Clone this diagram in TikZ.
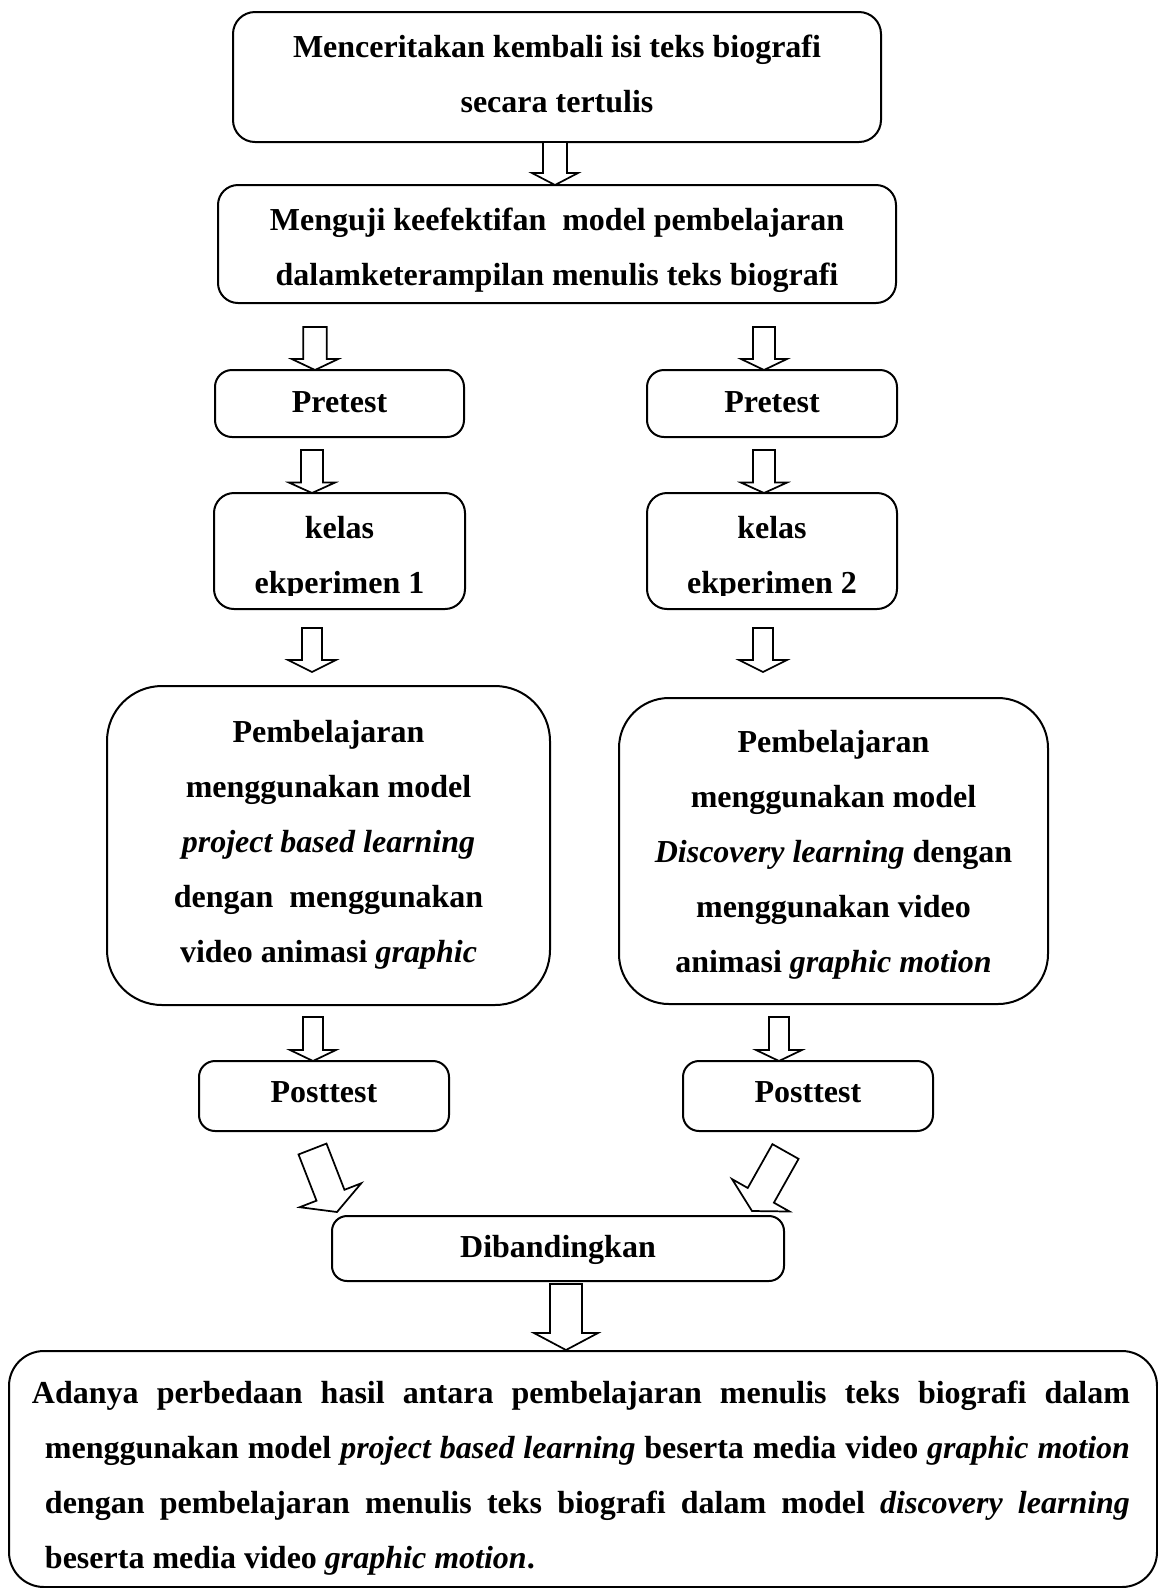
\documentclass[tikz,border=0pt]{standalone}
\usepackage{fontspec}
\setmainfont{Liberation Serif}
\usetikzlibrary{calc}
\newcommand\nsp{\spaceskip=0pt\xspaceskip=0pt\relax}
\newcommand\csp{\spaceskip=\fontdimen2\font\xspaceskip=\fontdimen2\font\relax}
\tikzset{
  bx/.style={draw, line width=0.75pt, inner sep=0pt, outer sep=0pt},
  txt/.style={inner sep=0pt, outer sep=0pt, align=center, anchor=base,
              font=\fontsize{12pt}{20.625pt}\selectfont\bfseries},
  blk/.style={draw, line width=0.65pt, fill=white, line join=miter},
}
% #1 name, #2 start coord, #3 tip coord, #4 half shaft, #5 half head, #6 head length
\newcommand\blkarrow[6]{%
  \coordinate (#1h) at ($(#3)!#6!(#2)$);
  \draw[blk] ($(#2)!#4!90:(#3)$) -- ($(#1h)!#4!90:(#3)$) -- ($(#1h)!#5!90:(#3)$)
    -- (#3) -- ($(#1h)!#5!-90:(#3)$) -- ($(#1h)!#4!-90:(#3)$) -- ($(#2)!#4!-90:(#3)$) -- cycle;
}
\begin{document}
\begin{tikzpicture}[x=0.375pt, y=-0.375pt]
\useasboundingbox (0,0) rectangle (1158,1588);

% boxes
\node[bx, minimum width=243pt, minimum height=48.75pt, rounded corners=8.25pt] (b1) at (557,77) {};
\node[bx, minimum width=254.25pt, minimum height=44.25pt, rounded corners=7.5pt] (b2) at (557,244) {};
\node[bx, minimum width=93.375pt, minimum height=25.125pt, rounded corners=6.375pt] (pre1) at (339.5,403.5) {};
\node[bx, minimum width=93.75pt, minimum height=25.125pt, rounded corners=6.375pt] (pre2) at (772,403.5) {};
\node[bx, minimum width=94.125pt, minimum height=43.5pt, rounded corners=7.5pt] (kel1) at (339.5,551) {};
\node[bx, minimum width=93.75pt, minimum height=43.5pt, rounded corners=7.5pt] (kel2) at (772,551) {};
\node[bx, minimum width=166.125pt, minimum height=119.625pt, rounded corners=20.625pt] (big1) at (328.5,845.5) {};
\node[bx, minimum width=160.875pt, minimum height=114.75pt, rounded corners=18.75pt] (big2) at (833.5,851) {};
\node[bx, minimum width=93.75pt, minimum height=26.25pt, rounded corners=6pt] (post1) at (324,1096) {};
\node[bx, minimum width=93.75pt, minimum height=26.25pt, rounded corners=6pt] (post2) at (808,1096) {};
\node[bx, minimum width=169.5pt, minimum height=24.375pt, rounded corners=5.625pt] (dib) at (558,1248.5) {};
\node[bx, minimum width=430.5pt, minimum height=88.5pt, rounded corners=13.125pt] (fin) at (583,1469) {};

% texts
\node[txt, text width=232.5pt] (t1) at (557,57) {\csp Menceritakan kembali isi teks biografi\\secara tertulis};
\node[txt, text width=243.75pt] (t2) at (557,230) {\csp Menguji keefektifan~ model pembelajaran\\dalamketerampilan menulis teks biografi};
\node[txt, text width=86.25pt] (tp1) at (339.5,412) {Pretest};
\node[txt, text width=86.25pt] (tp2) at (772,412) {Pretest};
\begin{scope}
  \clip (200,480) rectangle (480,595);
  \node[txt, text width=86.25pt] (tk1) at (339.5,538) {\csp kelas\\ekperimen 1};
\end{scope}
\begin{scope}
  \clip (630,480) rectangle (910,595);
  \node[txt, text width=86.25pt] (tk2) at (772,538) {\csp kelas\\ekperimen 2};
\end{scope}
\node[txt, text width=157.5pt] (tb1) at (328.5,742) {\csp Pembelajaran\\menggunakan model\\\textit{project based learning}\\dengan~ menggunakan\\video animasi \textit{graphic}};
\node[txt, text width=155pt] (tb2) at (833.5,752) {\csp Pembelajaran\\menggunakan model\\\textit{Discovery learning} dengan\\menggunakan video\\animasi \textit{graphic motion}};
\node[txt, text width=86.25pt] (tq1) at (324,1102) {Posttest};
\node[txt, text width=86.25pt] (tq2) at (808,1102) {Posttest};
\node[txt, text width=161.25pt] (td) at (558,1257) {Dibandingkan};
\node[txt, align=left, anchor=base west, text width=406.875pt] (tf) at (45,1403)
  {\nsp\kern-4.875pt\makebox[411.75pt][s]{Adanya perbedaan hasil antara pembelajaran menulis teks biografi dalam}\\
   \makebox[406.875pt][s]{menggunakan model \textit{project based learning} beserta media video \textit{graphic motion}}\\
   \makebox[406.875pt][s]{dengan pembelajaran menulis teks biografi dalam model \textit{discovery learning}}\\
   \csp beserta media video \textit{graphic motion}.};

% arrow end points
\coordinate (a1s) at (555,142);  \coordinate (a1e) at (555,185);
\coordinate (a2s) at (315,327);  \coordinate (a2e) at (315,370);
\coordinate (a3s) at (764,327);  \coordinate (a3e) at (764,370);
\coordinate (a4s) at (312,450);  \coordinate (a4e) at (312,493);
\coordinate (a5s) at (764,450);  \coordinate (a5e) at (764,493);
\coordinate (a6s) at (312,628);  \coordinate (a6e) at (312,672);
\coordinate (a7s) at (763,628);  \coordinate (a7e) at (763,672);
\coordinate (a8s) at (313,1017); \coordinate (a8e) at (313,1061);
\coordinate (a9s) at (779,1017); \coordinate (a9e) at (779,1061);
\coordinate (d1s) at (312.5,1149); \coordinate (d1e) at (337,1212);
\coordinate (d2s) at (785.5,1151.5); \coordinate (d2e) at (752,1211);
\coordinate (a10s) at (566,1284); \coordinate (a10e) at (566,1350);

\blkarrow{a1}{a1s}{a1e}{4.5pt}{8.625pt}{4.5pt}
\blkarrow{a2}{a2s}{a2e}{4.4pt}{8.7pt}{4.125pt}
\blkarrow{a3}{a3s}{a3e}{4.1pt}{8.6pt}{4.125pt}
\blkarrow{a4}{a4s}{a4e}{4.1pt}{8.6pt}{3.9pt}
\blkarrow{a5}{a5s}{a5e}{4.1pt}{8.6pt}{3.9pt}
\blkarrow{a6}{a6s}{a6e}{3.75pt}{9pt}{4.5pt}
\blkarrow{a7}{a7s}{a7e}{3.75pt}{9pt}{4.5pt}
\blkarrow{a8}{a8s}{a8e}{3.75pt}{8.6pt}{4.125pt}
\blkarrow{a9}{a9s}{a9e}{3.75pt}{8.6pt}{4.125pt}
\blkarrow{d1}{d1s}{d1e}{5.625pt}{12.375pt}{6.75pt}
\blkarrow{d2}{d2s}{d2e}{5.625pt}{12.375pt}{6.75pt}
\blkarrow{a10}{a10s}{a10e}{6pt}{12pt}{6.375pt}
\end{tikzpicture}
\end{document}
